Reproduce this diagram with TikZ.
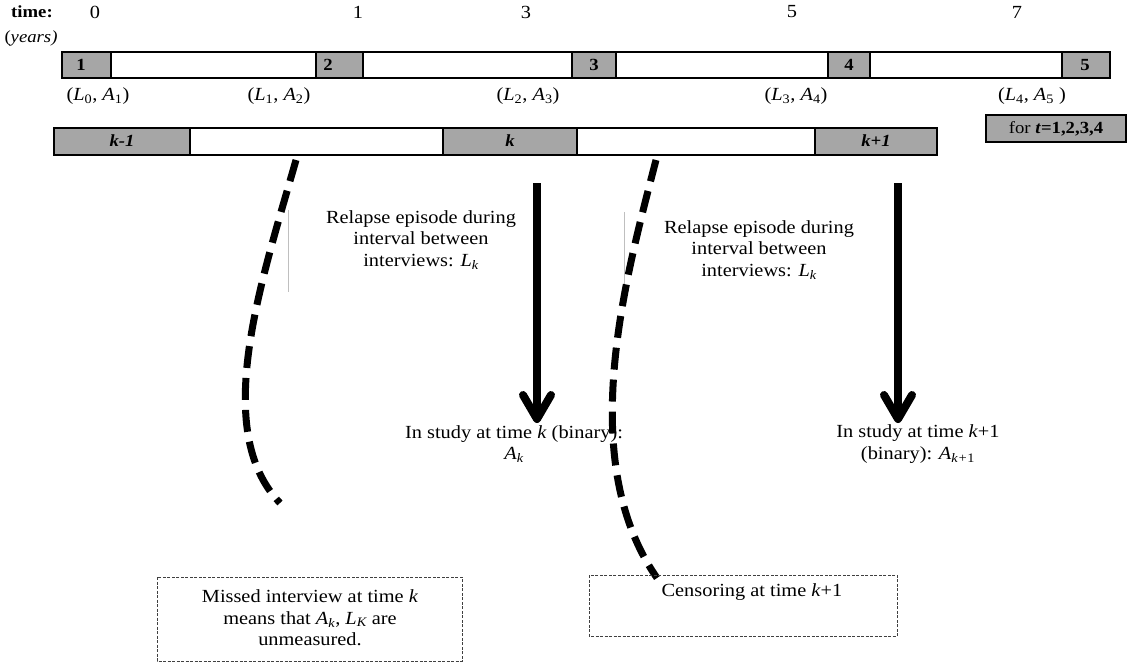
\documentclass[tikz,border=0pt]{standalone}
\usepackage{fontspec}
\setmainfont[FakeStretch=1.1]{Liberation Serif}
\usetikzlibrary{arrows.meta}
\newcommand\mv[2]{\textit{#1}\textsubscript{#2}}
\begin{document}
\begin{tikzpicture}[x=1pt,y=-1pt,
  txt/.style={font=\fontsize{18.5}{21.5}\selectfont, inner sep=0pt, align=center},
  lbl/.style={font=\fontsize{17}{20}\selectfont\bfseries, inner sep=0pt},
  seg/.style={draw=black, line width=2.5pt},
  graybox/.style={seg, fill=black!35},
  dashcurve/.style={line width=7pt, dash pattern=on 22pt off 10pt},
  bigarrow/.style={line width=8pt, -{Straight Barb[length=24pt,width=28pt,round]}},
  note/.style={draw=black!75, line width=0.8pt, dash pattern=on 3pt off 1.5pt},
  thinline/.style={draw=black!25, line width=0.6pt}]
\useasboundingbox (0,0) rectangle (1127,662);

% top timeline
\node[lbl] (time) at (32,12) {time:};
\node[txt, font=\fontsize{17}{20}\selectfont] (years) at (31,38) {(\textit{years)}};
\node[txt] (t0) at (95,12) {0};
\node[txt] (t1) at (358,12) {1};
\node[txt] (t3) at (526,12) {3};
\node[txt] (t5) at (792,12) {5};
\node[txt] (t7) at (1017,12) {7};

\draw[seg, fill=white] (62,52) rectangle (1110,78);
\foreach \a/\b in {62/111, 316/363, 572/616, 828/870, 1062/1110}
  \draw[graybox] (\a,52) rectangle (\b,78);
\node[lbl] (n1) at (81,65) {1};
\node[lbl] (n2) at (328,65) {2};
\node[lbl] (n3) at (594,65) {3};
\node[lbl] (n4) at (849,65) {4};
\node[lbl] (n5) at (1085,65) {5};

\node[txt] (la1) at (98,96) {(\mv{L}{0}, \mv{A}{1})};
\node[txt] (la2) at (279,96) {(\mv{L}{1}, \mv{A}{2})};
\node[txt] (la3) at (528,96) {(\mv{L}{2}, \mv{A}{3})};
\node[txt] (la4) at (796,96) {(\mv{L}{3}, \mv{A}{4})};
\node[txt] (la5) at (1032,96) {(\mv{L}{4}, \mv{A}{5} )};

% for t box
\draw[graybox] (986,115) rectangle (1126,142);
\node[txt, font=\fontsize{17}{20}\selectfont] (fort) at (1056,129) {for \textbf{\textit{t}=1,2,3,4}};

% second bar
\draw[seg, fill=white] (54,128) rectangle (937,155);
\draw[graybox] (54,128) rectangle (190,155);
\draw[graybox] (443,128) rectangle (577,155);
\draw[graybox] (815,128) rectangle (937,155);
\node[lbl] (km1) at (122,141) {\textit{k-1}};
\node[lbl] (k) at (510,141) {\textit{k}};
\node[lbl] (kp1) at (876,141) {\textit{k+1}};

% thin gray lines
\draw[thinline] (288,210) -- (288,292);
\draw[thinline] (624,212) -- (624,292);

% dashed curves
\coordinate (c1s) at (296,160);
\coordinate (c1e) at (280,503);
\coordinate (c2s) at (656,160);
\coordinate (c2e) at (657,578);
\draw[dashcurve] (c1s) .. controls (262,280) and (210,430) .. (c1e);
\draw[dashcurve] (c2s) .. controls (625,280) and (575,460) .. (c2e);

% arrows
\coordinate (a1s) at (537,183);
\coordinate (a1e) at (537,423);
\coordinate (a2s) at (898,183);
\coordinate (a2e) at (898,423);
\draw[bigarrow] (a1s) -- (a1e);
\draw[bigarrow] (a2s) -- (a2e);

% texts
\node[txt] (rel1) at (421,240) {Relapse episode during\\interval between\\interviews: \mv{L}{\itshape k}};
\node[txt] (rel2) at (759,250) {Relapse episode during\\interval between\\interviews: \mv{L}{\itshape k}};
\node[txt] (st1) at (514,444) {In study at time \textit{k} (binary):\\\mv{A}{\itshape k}};
\node[txt] (st2) at (918,444) {In study at time \textit{k}+1\\(binary): \mv{A}{\itshape k+\upshape 1}};

% note boxes
\draw[note] (157,577) rectangle (462,661);
\node[txt] (missed) at (310,618) {Missed interview at time \textit{k}\\means that \mv{A}{\itshape k}, \mv{L}{\itshape K} are\\unmeasured.};
\draw[note] (589,575) rectangle (897,636);
\node[txt] (cens) at (752,592) {Censoring at time \textit{k}+1};
\end{tikzpicture}
\end{document}
